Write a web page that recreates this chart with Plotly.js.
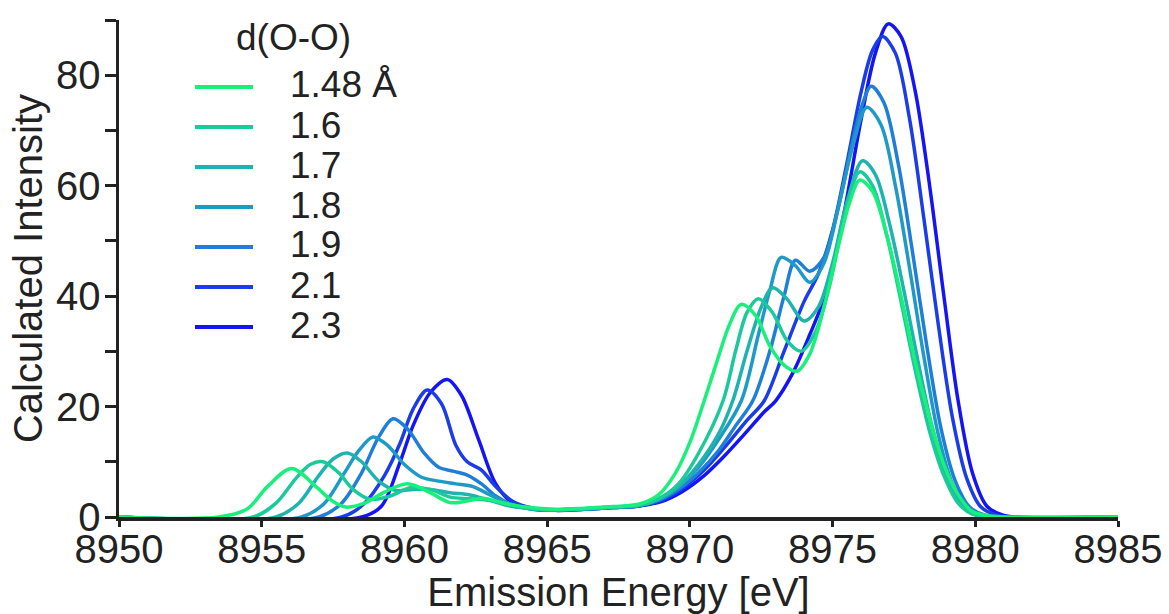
<!DOCTYPE html>
<html><head><meta charset="utf-8">
<script src="https://cdn.plot.ly/plotly-3.0.1.min.js"></script>
<style>html,body{margin:0;padding:0;background:#fff}#chart{width:1169px;height:614px}</style>
</head><body><div id="chart"></div>
<script>
// Series labels (d(O-O) distance) and colours
const seriesNames = ['1.48 Å', '1.6', '1.7', '1.8', '1.9', '2.1', '2.3'];
const seriesColors = ['#19f07c', '#1cc99a', '#1fb3b0', '#1f9ac6', '#1f7fd8', '#1a3de8', '#1414f5'];

// Emission energy (eV) / calculated intensity
const x148 = [8950, 8953.5, 8954.5, 8955.2, 8956.05, 8956.9, 8957.5, 8957.95, 8958.6, 8959.3, 8960.1, 8960.9, 8961.6, 8962.2, 8962.75, 8963.5, 8964.3, 8965.3, 8966.3, 8967.3, 8968.2, 8968.9, 8969.5, 8970.0, 8970.5, 8971.0, 8971.4, 8971.8, 8972.3, 8972.8, 8973.3, 8973.75, 8974.2, 8974.7, 8975.2, 8975.6, 8975.95, 8976.4, 8976.9, 8977.4, 8977.9, 8978.4, 8978.9, 8979.4, 8979.9, 8980.5, 8985];
const y148 = [0, 0, 1.5, 5.5, 8.8, 5.5, 2.8, 1.8, 2.5, 4.5, 6.0, 4.4, 2.6, 2.9, 3.4, 2.5, 1.8, 1.4, 1.6, 1.9, 2.3, 4.0, 8, 13.5, 21, 29, 35, 38.5, 36.5, 31, 27.5, 26.4, 29.5, 38, 49, 57, 61, 59, 51, 40, 28, 18, 9.5, 4, 1, 0.2, 0];

const x16 = [8950, 8954.7, 8955.5, 8956.2, 8956.7, 8957.15, 8957.7, 8958.2, 8958.8, 8959.5, 8960.2, 8960.9, 8961.6, 8962.3, 8963.0, 8963.7, 8964.4, 8965.3, 8966.3, 8967.3, 8968.2, 8968.9, 8969.6, 8970.3, 8971.16, 8971.6, 8972.0, 8972.4, 8972.9, 8973.4, 8973.9, 8974.4, 8974.9, 8975.4, 8975.95, 8976.4, 8976.9, 8977.4, 8977.9, 8978.4, 8978.9, 8979.4, 8979.9, 8980.5, 8985];
const y16 = [0, 0, 2.5, 7, 9.5, 10, 8, 5, 3.2, 3.8, 5.3, 5.0, 3.6, 3.3, 3.0, 2.2, 1.6, 1.3, 1.5, 1.8, 2.1, 3.3, 6, 11.5, 21, 30, 37, 39.5, 37, 32, 30, 33.5, 42, 54, 62.5, 60, 51, 39, 26.5, 15.5, 7.5, 2.5, 0.5, 0, 0];

const x17 = [8950, 8955.5, 8956.3, 8957.0, 8957.5, 8958.0, 8958.5, 8959.1, 8959.7, 8960.3, 8960.9, 8961.6, 8962.3, 8963.0, 8963.7, 8964.4, 8965.3, 8966.3, 8967.3, 8968.2, 8968.9, 8969.6, 8970.3, 8971.0, 8971.5, 8972.0, 8972.5, 8972.9, 8973.4, 8974.0, 8974.5, 8975.0, 8975.5, 8976.05, 8976.5, 8977.0, 8977.5, 8978.0, 8978.5, 8979.0, 8979.5, 8980.0, 8980.6, 8985];
const y17 = [0, 0, 2.5, 7.5, 10.5, 11.6, 10, 6.5, 4.8, 5.0, 5.0, 4.4, 4.0, 3.0, 2.0, 1.5, 1.3, 1.5, 1.8, 2.1, 3.2, 5.5, 9.5, 15, 21, 30, 38, 41.5, 39.5, 35.5, 38, 46, 57, 64.5, 62, 53, 41, 28, 16, 7, 2.2, 0.5, 0, 0];

const x18 = [8950, 8956.4, 8957.2, 8957.9, 8958.4, 8958.9, 8959.4, 8960.0, 8960.6, 8961.2, 8961.8, 8962.4, 8963.0, 8963.6, 8964.3, 8965.3, 8966.3, 8967.3, 8968.2, 8968.9, 8969.6, 8970.3, 8971.0, 8971.8, 8972.4, 8972.8, 8973.2, 8973.7, 8974.2, 8974.7, 8975.2, 8975.7, 8976.2, 8976.7, 8977.2, 8977.7, 8978.2, 8978.7, 8979.2, 8979.7, 8980.2, 8981, 8985];
const y18 = [0, 0, 2.5, 8, 12, 14.5, 13, 9.5, 7.2, 6.5, 6.0, 5.5, 4, 2.5, 1.6, 1.3, 1.5, 1.8, 2.1, 3.2, 5.5, 9, 14, 21, 33, 41, 47, 45.5, 42.5, 46, 56, 67, 74.2, 71, 60, 45, 29, 15, 6, 1.6, 0.3, 0, 0];

const x19 = [8950, 8957, 8957.8, 8958.5, 8959.1, 8959.6, 8960.1, 8960.7, 8961.2, 8961.7, 8962.2, 8962.7, 8963.2, 8963.8, 8964.5, 8965.3, 8966.3, 8967.3, 8968.2, 8968.9, 8969.6, 8970.3, 8971.0, 8971.6, 8972.2, 8972.8, 8973.3, 8973.7, 8974.2, 8974.7, 8975.2, 8975.7, 8976.0, 8976.35, 8976.8, 8977.3, 8977.8, 8978.3, 8978.8, 8979.3, 8979.8, 8980.3, 8981, 8985];
const y19 = [0, 0, 2.5, 8, 14.5, 17.8, 16, 11.5, 9, 8.3, 7.6, 6, 3.8, 2.2, 1.5, 1.2, 1.4, 1.7, 2.0, 3, 5, 8, 12, 16.5, 21, 30, 40, 46.5, 44.5, 47, 56, 68, 74, 78, 75, 64, 48, 31, 16, 6.5, 1.8, 0.4, 0, 0];

const x21 = [8950, 8957.8, 8958.6, 8959.3, 8959.85, 8960.3, 8960.8, 8961.3, 8961.8, 8962.2, 8962.7, 8963.2, 8963.8, 8964.5, 8965.3, 8966.3, 8967.3, 8968.2, 8969.0, 8969.7, 8970.5, 8971.2, 8972.0, 8972.6, 8973.3, 8974.0, 8974.5, 8975.0, 8975.5, 8976.0, 8976.4, 8976.75, 8977.2, 8977.7, 8978.2, 8978.7, 8979.2, 8979.7, 8980.2, 8980.8, 8985];
const y21 = [0, 0, 2.5, 7.5, 13.4, 19.5, 23, 20.5, 13, 10, 8.5, 5.5, 2.8, 1.6, 1.2, 1.4, 1.7, 2.0, 3, 5, 8.5, 12.5, 17.5, 21, 30, 39, 44, 52, 64, 77, 84.5, 87, 84, 72, 54, 35, 18, 7, 1.8, 0.3, 0];

const x23 = [8950, 8958.5, 8959.2, 8959.85, 8960.3, 8960.9, 8961.5, 8962.0, 8962.6, 8963.2, 8963.8, 8964.5, 8965.3, 8966.3, 8967.3, 8968.2, 8969.0, 8969.7, 8970.5, 8971.2, 8972.0, 8972.6, 8973.0, 8973.6, 8974.2, 8974.8, 8975.4, 8976.0, 8976.5, 8976.95, 8977.4, 8977.9, 8978.4, 8978.9, 8979.4, 8979.9, 8980.4, 8981, 8985];
const y23 = [0, 0, 2, 10, 16.5, 22.5, 24.9, 22, 14, 6, 2.5, 1.4, 1.2, 1.4, 1.7, 2.0, 2.8, 4.5, 7.5, 11, 15.5, 19, 21, 26, 33, 41, 55, 72, 84, 89.3, 87, 77, 60, 40, 21, 8, 2, 0.3, 0];

const seriesX = [x148, x16, x17, x18, x19, x21, x23];
const seriesY = [y148, y16, y17, y18, y19, y21, y23];

// Axis ticks
const xTickVals = [8950, 8955, 8960, 8965, 8970, 8975, 8980, 8985];
const yTickVals = [0, 10, 20, 30, 40, 50, 60, 70, 80, 90];
const yTickText = ['0', '', '20', '', '40', '', '60', '', '80', ''];
const legendTitle = 'd(O-O)';

const axisFont = { family: '"Liberation Sans", Arial, sans-serif', size: 40, color: '#222' };
const legFont = { family: '"Liberation Sans", Arial, sans-serif', size: 37, color: '#222' };

const W = 1169, H = 614, L = 119, R = 1118, T = 20, B = 517;
const px = v => (v - L) / (R - L);
const py = v => (B - v) / (B - T);

// drawing order: 2.3 first, 1.48 last (on top)
const traces = [];
for (let i = seriesNames.length - 1; i >= 0; i--) {
  traces.push({
    type: 'scatter', mode: 'lines', name: seriesNames[i],
    x: seriesX[i], y: seriesY[i],
    line: { color: seriesColors[i], width: 3.5, shape: 'spline', smoothing: 0.9 },
    showlegend: false, hoverinfo: 'x+y+name'
  });
}

// legend drawn to match the reference layout
const annotations = [{
  xref: 'paper', yref: 'paper', x: px(234), y: py(37), xanchor: 'left', yanchor: 'middle',
  text: legendTitle, showarrow: false, font: legFont
}];
const shapes = [];
seriesNames.forEach((n, i) => {
  const rowY = 87 + 40 * i;
  shapes.push({ type: 'line', xref: 'paper', yref: 'paper', x0: px(195), x1: px(253), y0: py(rowY), y1: py(rowY),
                line: { color: seriesColors[i], width: 4 } });
  annotations.push({ xref: 'paper', yref: 'paper', x: px(288), y: py(rowY - 2), xanchor: 'left', yanchor: 'middle',
                     text: n, showarrow: false, font: legFont });
});

const layout = {
  width: W, height: H,
  margin: { l: L, r: W - R, t: T, b: H - B, pad: 0 },
  paper_bgcolor: '#fff', plot_bgcolor: '#fff',
  showlegend: false,
  font: axisFont,
  xaxis: {
    range: [8950, 8985], tickvals: xTickVals, ticks: 'outside', ticklen: 6, tickwidth: 3, tickcolor: '#222',
    showline: true, linewidth: 3.5, linecolor: '#222', showgrid: false, zeroline: false,
    tickfont: axisFont, ticklabelstandoff: -12,
    title: { text: '\u00a0\u00a0\u00a0\u00a0Emission Energy [eV]', font: axisFont, standoff: 6 }
  },
  yaxis: {
    range: [0, 90], tickvals: yTickVals, ticktext: yTickText, ticks: 'outside', ticklen: 11, tickwidth: 3, tickcolor: '#222',
    showline: true, linewidth: 3.5, linecolor: '#222', showgrid: false, zeroline: false,
    tickfont: axisFont, ticklabelstandoff: -4,
    title: { text: 'Calculated Intensity', font: axisFont, standoff: 2 }
  },
  annotations: annotations, shapes: shapes
};

Plotly.newPlot('chart', traces, layout, { displayModeBar: false, staticPlot: true });
</script></body></html>
